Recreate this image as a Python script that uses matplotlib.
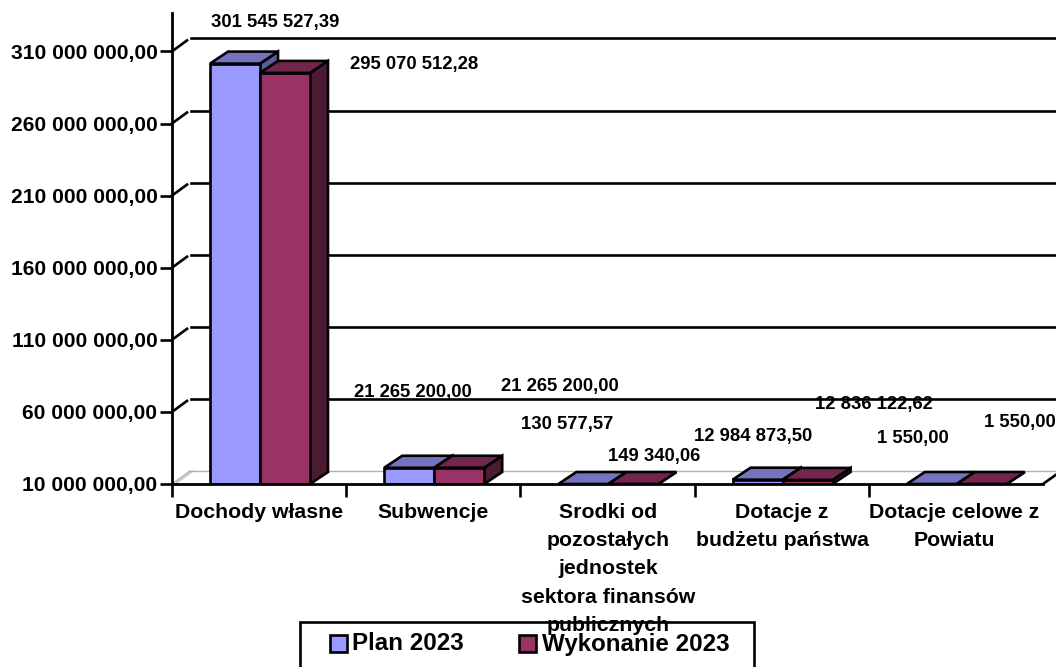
import matplotlib.pyplot as plt
import numpy as np
from matplotlib.patches import Rectangle

plt.rcParams['font.family'] = ['Liberation Sans', 'DejaVu Sans']
plt.rcParams['font.weight'] = 'bold'

categories = ['Dochody własne', 'Subwencje',
              'Srodki od\npozostałych\njednostek\nsektora finansów\npublicznych',
              'Dotacje z\nbudżetu państwa', 'Dotacje celowe z\nPowiatu']
plan_2023 = [301545527.39, 21265200.00, 130577.57, 12984873.50, 1550.00]
wykonanie_2023 = [295070512.28, 21265200.00, 149340.06, 12836122.62, 1550.00]
y_ticks = [10000000, 60000000, 110000000, 160000000, 210000000, 260000000, 310000000]

W, H = 1056, 667
BASE = 10000000
PX_X = 174.2             # px na kategorię
PX_Y = 72.1 / 50000000   # px na zł
DX = 18 / PX_X
DY = 12 / PX_Y
GRID_DY = 13 / PX_Y
BAR_W = 50 / PX_X
BAR_OFF = 38 / PX_X
LW = 1.9

fig = plt.figure(figsize=(W / 100, H / 100), dpi=100)
left, right, top, bottom = 172, 1056, 13, 484
ax = fig.add_axes([left / W, 1 - bottom / H, (right - left) / W, (bottom - top) / H])
ax.set_xlim(0, (right - left) / PX_X)
ax.set_ylim(BASE, BASE + (bottom - top) / PX_Y)


def money(v):
    s = f'{v:,.2f}'
    return s.replace(',', ' ').replace('.', ',')


def bar3d(x, value, front, top_c, side):
    v = max(value, BASE)
    w = BAR_W
    if v > BASE:
        ax.fill([x, x + w, x + w, x], [BASE, BASE, v, v], facecolor=front, edgecolor='k', lw=LW, zorder=4)
    ax.fill([x, x + w, x + w + DX, x + DX], [v, v, v + DY, v + DY], facecolor=top_c, edgecolor='k', lw=LW, zorder=4)
    ax.fill([x + w, x + w + DX, x + w + DX, x + w], [BASE, BASE + DY, v + DY, v],
            facecolor=side, edgecolor='k', lw=LW, zorder=3)


# tylna siatka i podłoga
x_end = (right - left) / PX_X
for t in y_ticks[1:]:
    ax.plot([0, 15 / PX_X], [t, t + 11 / PX_Y], color='k', lw=LW, clip_on=False, zorder=1)
    ax.plot([19 / PX_X, x_end], [t + GRID_DY, t + GRID_DY], color='k', lw=LW, clip_on=False, zorder=1)
ax.plot([DX, x_end], [BASE + GRID_DY, BASE + GRID_DY], color='#b0b0b0', lw=1.0, zorder=1)
ax.plot([0, DX], [BASE, BASE + GRID_DY], color='#b0b0b0', lw=1.0, zorder=1)
ax.plot([3 / PX_X, DX + 3 / PX_X], [BASE, BASE + GRID_DY], color='#b0b0b0', lw=0.8, zorder=1)
ax.plot([5.0, 5.0 + 14 / PX_X], [BASE, BASE + 10 / PX_Y], color='k', lw=LW, clip_on=False, zorder=2)
ax.plot([0, 5.0], [BASE, BASE], color='k', lw=2.0, clip_on=False, zorder=5)

for i in range(len(categories)):
    bar3d(i + BAR_OFF, plan_2023[i], '#9999ff', '#7373bf', '#5c5c99')
    bar3d(i + BAR_OFF + BAR_W, wykonanie_2023[i], '#993366', '#73264d', '#4d1a33')

for s in ['top', 'right', 'bottom']:
    ax.spines[s].set_visible(False)
ax.spines['left'].set_linewidth(2.0)
ax.set_yticks(y_ticks)
ax.set_yticklabels([money(t) for t in y_ticks], fontsize=15.1, fontweight='bold')
ax.tick_params(axis='y', length=9, width=LW, pad=1.5)
ax.set_xticks(range(5))
ax.set_xticklabels([])
ax.tick_params(axis='x', length=9, width=LW)

# podpisy kategorii
cat_x = [259, 433, 608, 782, 954]
for cx, c in zip(cat_x, categories):
    fig.text(cx / W, 1 - 503 / H, c, ha='center', va='top', fontsize=15.3, fontweight='bold', linespacing=1.615)

# etykiety wartości (w pikselach, tak jak ułożone na wykresie)
plan_pos = [(275, 22), (413, 392), (567, 424), (753, 436), (913, 438)]
wyk_pos = [(414, 64), (560, 387), (654, 456), (874, 404), (1020, 422)]
for (px, py), v in zip(plan_pos, plan_2023):
    fig.text(px / W, 1 - py / H, money(v), ha='center', va='center', fontsize=13.3, fontweight='bold')
for (px, py), v in zip(wyk_pos, wykonanie_2023):
    fig.text(px / W, 1 - py / H, money(v), ha='center', va='center', fontsize=13.3, fontweight='bold')

# legenda
fig.add_artist(Rectangle((300 / W, 1 - 700 / H), 454 / W, 78 / H, transform=fig.transFigure,
                         fill=False, edgecolor='k', lw=LW, clip_on=True))
for sx, col, tx, label in [(330, '#9999ff', 352, 'Plan 2023'), (519, '#993366', 542, 'Wykonanie 2023')]:
    fig.add_artist(Rectangle((sx / W, 1 - 652 / H), 17 / W, 17 / H, transform=fig.transFigure,
                             facecolor=col, edgecolor='k', lw=LW))
    fig.text(tx / W, 1 - 644 / H, label, ha='left', va='center', fontsize=17.4, fontweight='bold')

fig.savefig('out.png', dpi=100)
